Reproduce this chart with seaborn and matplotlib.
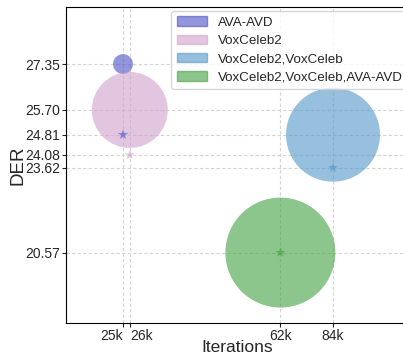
import numpy as np
import pandas as pd
import seaborn as sns
import matplotlib.pyplot as plt
from matplotlib.patches import Patch

# dados
datasets = ["AVA-AVD", "VoxCeleb2", "VoxCeleb2,VoxCeleb", "VoxCeleb2,VoxCeleb,AVA-AVD"]
iteracoes = [25, 26, 84, 62]          # em milhares
der_bolha = [27.35, 25.70, 24.81, 20.57]
der_estrela = [24.81, 24.08, 23.62, 20.57]
tamanhos = [205, 2990, 4580, 6270]
cores = ["#4a50c4", "#cfa0cb", "#5296c8", "#41a03f"]

xticks = [25, 26, 62, 84]
xtick_labels = ["25k", "26k", "62k", "84k"]
yticks = [27.35, 25.70, 24.81, 24.08, 23.62, 20.57]

df = pd.DataFrame({"iter": iteracoes, "der": der_bolha, "dataset": datasets})
df_estrela = pd.DataFrame({"iter": iteracoes, "der": der_estrela, "dataset": datasets})

sns.set_style("ticks")
plt.rcParams["font.family"] = ["Liberation Sans", "DejaVu Sans"]

fig = plt.figure(figsize=(4.03, 3.54), dpi=100)
ax = fig.add_axes([0.164, 0.087, 0.85, 0.893])

palette = dict(zip(datasets, cores))
sns.scatterplot(data=df, x="iter", y="der", hue="dataset", size="dataset",
                sizes=dict(zip(datasets, tamanhos)), palette=palette,
                alpha=0.6, linewidth=0, legend=False, ax=ax, zorder=2)
sns.scatterplot(data=df_estrela, x="iter", y="der", hue="dataset", palette=palette,
                marker="*", s=60, alpha=0.6, linewidth=0, legend=False, ax=ax, zorder=3)

ax.set_xscale("log")
ax.set_xlim(18, 130)
ax.set_ylim(18.03, 29.4)
ax.set_xticks(xticks)
ax.set_xticklabels(xtick_labels)
ax.minorticks_off()
ax.set_yticks(yticks)
ax.set_yticklabels(["%.2f" % v for v in yticks])
ax.tick_params(labelsize=10, length=3, pad=1.5)
ax.tick_params(axis="x", pad=1)
# 25k e 26k ficam muito perto, afasta os rotulos
labels = ax.get_xticklabels()
labels[0].set_ha("right")
labels[1].set_ha("left")
ax.grid(True, ls=(0, (3, 2)), color="#d3d3d3", lw=0.8, zorder=1)

ax.set_xlabel("Iterations", fontsize=12.5, labelpad=-2)
ax.set_ylabel("DER", fontsize=13.5, labelpad=-1)

for s in ["top", "right", "left", "bottom"]:
    ax.spines[s].set_color("black")

handles = [Patch(color=c, alpha=0.6, label=d) for c, d in zip(cores, datasets)]
ax.legend(handles=handles, loc="upper right", bbox_to_anchor=(1.01, 1.0),
          fontsize=9.6, frameon=True, borderaxespad=0.3, handlelength=2.3,
          labelspacing=0.45)

plt.savefig("out.png", dpi=100)
